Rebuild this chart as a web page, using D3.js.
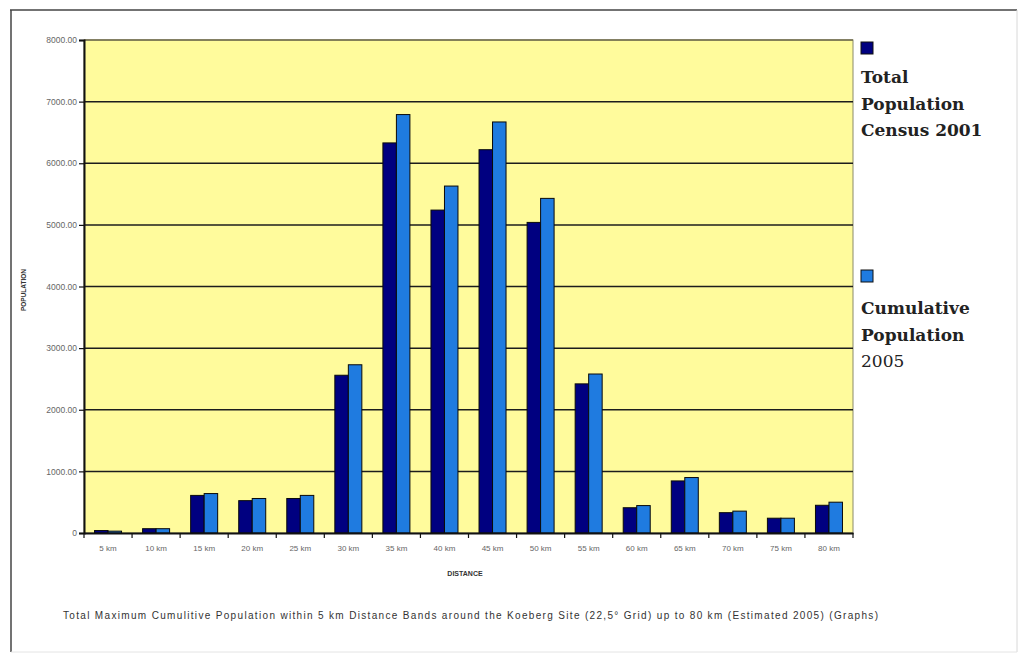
<!DOCTYPE html>
<html>
<head>
<meta charset="utf-8">
<script src="https://cdn.jsdelivr.net/npm/d3@7"></script>
<style>
  html, body { margin: 0; padding: 0; background: #ffffff; }
  svg { display: block; }
</style>
</head>
<body>
<svg id="chart" width="1019" height="656"></svg>
<script>
// Distance bands around the site
const categories = ["5 km","10 km","15 km","20 km","25 km","30 km","35 km","40 km",
                    "45 km","50 km","55 km","60 km","65 km","70 km","75 km","80 km"];
// Total Population Census 2001
const census2001 = [40, 70, 610, 525, 560, 2560, 6330, 5240, 6220, 5040, 2420, 410, 845, 330, 240, 450];
// Cumulative Population 2005
const cumulative2005 = [30, 70, 640, 560, 610, 2730, 6790, 5630, 6670, 5430, 2580, 445, 900, 355, 240, 500];
const seriesNames = ["Total Population Census 2001", "Cumulative Population 2005"];
const yTicks = [0, 1000, 2000, 3000, 4000, 5000, 6000, 7000, 8000];

const colors = ["#000080", "#1f7be0"];

const svg = d3.select("#chart");

// outer frame
svg.append("line").attr("x1", 10).attr("y1", 10).attr("x2", 1017).attr("y2", 10)
  .attr("stroke", "#444").attr("stroke-width", 1.5);
svg.append("line").attr("x1", 11).attr("y1", 10).attr("x2", 11).attr("y2", 652)
  .attr("stroke", "#444").attr("stroke-width", 1.5);
svg.append("line").attr("x1", 1017).attr("y1", 10).attr("x2", 1017).attr("y2", 652)
  .attr("stroke", "#d8d8d8").attr("stroke-width", 1);
svg.append("line").attr("x1", 11).attr("y1", 652).attr("x2", 1017).attr("y2", 652)
  .attr("stroke", "#e4e4e4").attr("stroke-width", 1);

const plot = { left: 84, right: 853, top: 40, bottom: 533 };

const x0 = d3.scaleBand().domain(categories).range([plot.left, plot.right]).padding(0);
const x1 = d3.scaleBand().domain(seriesNames).range([0, x0.bandwidth()])
  .paddingInner(0).paddingOuter(0.78);
const y = d3.scaleLinear().domain([0, 8000]).range([plot.bottom, plot.top]);

// plot area fill
svg.append("rect")
  .attr("x", plot.left).attr("y", plot.top)
  .attr("width", plot.right - plot.left).attr("height", plot.bottom - plot.top)
  .attr("fill", "#fffb9c").attr("stroke", "#8a8a6a").attr("stroke-width", 1);

// horizontal gridlines
svg.append("g").selectAll("line")
  .data(yTicks.filter(d => d > 0))
  .join("line")
  .attr("x1", plot.left).attr("x2", plot.right)
  .attr("y1", d => y(d)).attr("y2", d => y(d))
  .attr("stroke", d => d === 8000 ? "#6f6a4a" : "#1c1c1c")
  .attr("stroke-width", 1.5);

// bars
const data = categories.map((c, i) => ({ cat: c, values: [census2001[i], cumulative2005[i]] }));
const groups = svg.append("g").selectAll("g")
  .data(data).join("g")
  .attr("transform", d => `translate(${x0(d.cat)},0)`);
groups.selectAll("rect")
  .data(d => d.values.map((v, k) => ({ name: seriesNames[k], v, k })))
  .join("rect")
  .attr("x", d => x1(d.name))
  .attr("y", d => y(d.v))
  .attr("width", x1.bandwidth())
  .attr("height", d => y(0) - y(d.v))
  .attr("fill", d => colors[d.k])
  .attr("stroke", "#0a0a0a")
  .attr("stroke-width", 1);

// y axis
const yAxis = d3.axisLeft(y).tickValues(yTicks).tickSize(5).tickPadding(2)
  .tickFormat(d => d === 0 ? "0" : d3.format(".2f")(d));
const gy = svg.append("g").attr("transform", `translate(${plot.left},0)`).call(yAxis);
gy.select(".domain").attr("stroke", "#111").attr("stroke-width", 2);
gy.selectAll(".tick line").attr("stroke", "#111").attr("stroke-width", 1.2);
gy.selectAll(".tick text").attr("fill", "#666").attr("font-family", "Liberation Sans, Arial, sans-serif")
  .attr("font-size", 8.5);

// x axis with ticks between categories
const xAxis = d3.axisBottom(x0).tickSize(0).tickPadding(12);
const gx = svg.append("g").attr("transform", `translate(0,${plot.bottom})`).call(xAxis);
gx.select(".domain").attr("stroke", "#111").attr("stroke-width", 2);
gx.selectAll(".tick text").attr("fill", "#666").attr("font-family", "Liberation Sans, Arial, sans-serif")
  .attr("font-size", 8);
svg.append("g").selectAll("line")
  .data(categories.concat(["end"]))
  .join("line")
  .attr("x1", (d, i) => plot.left + i * x0.step())
  .attr("x2", (d, i) => plot.left + i * x0.step())
  .attr("y1", plot.bottom).attr("y2", plot.bottom + 5)
  .attr("stroke", "#111").attr("stroke-width", 1.2);

// axis titles
svg.append("text")
  .attr("transform", "translate(26,290) rotate(-90)")
  .attr("text-anchor", "middle")
  .attr("font-family", "Liberation Sans, Arial, sans-serif")
  .attr("font-size", 6.5).attr("font-weight", "bold").attr("fill", "#333")
  .text("POPULATION");
svg.append("text")
  .attr("x", 465).attr("y", 576)
  .attr("text-anchor", "middle")
  .attr("font-family", "Liberation Sans, Arial, sans-serif")
  .attr("font-size", 7).attr("font-weight", "bold").attr("fill", "#333")
  .text("DISTANCE");

// caption
svg.append("text")
  .attr("x", 63).attr("y", 619)
  .attr("textLength", 815).attr("lengthAdjust", "spacing")
  .attr("font-family", "Liberation Sans, Arial, sans-serif")
  .attr("font-size", 10).attr("fill", "#333")
  .text("Total Maximum Cumulitive Population within 5 km Distance Bands around the  Koeberg Site (22,5° Grid) up to 80 km (Estimated 2005) (Graphs)");

// legend
const legend = [
  { color: colors[0], y: 42, lines: ["Total", "Population", "Census 2001"], base: 83, bold: [true, true, true] },
  { color: colors[1], y: 270, lines: ["Cumulative", "Population", "2005"], base: 314, bold: [true, true, false] }
];
legend.forEach(l => {
  svg.append("rect").attr("x", 861).attr("y", l.y).attr("width", 12).attr("height", 12)
    .attr("fill", l.color).attr("stroke", "#111").attr("stroke-width", 1);
  l.lines.forEach((t, i) => {
    svg.append("text")
      .attr("x", 861).attr("y", l.base + i * 26.5)
      .attr("font-family", "DejaVu Serif, serif")
      .attr("font-size", 17)
      .attr("font-weight", l.bold[i] ? "bold" : "normal")
      .attr("fill", "#222")
      .text(t);
  });
});
</script>
</body>
</html>
